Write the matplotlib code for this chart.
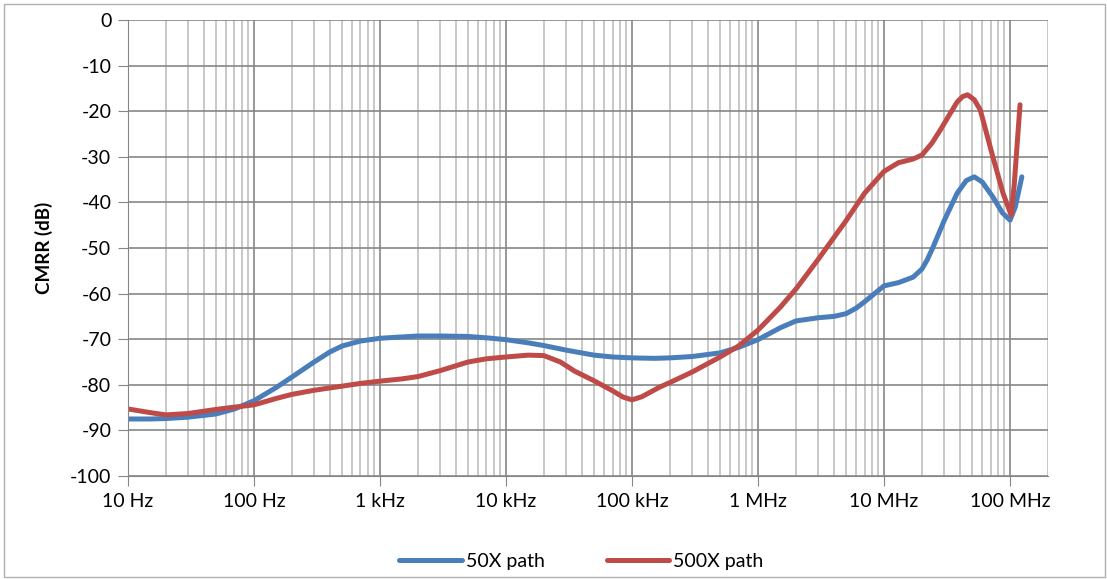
import matplotlib.pyplot as plt
import matplotlib.patches as patches

# frequencies (Hz) and CMRR (dB)
freq_50x = [10, 15, 20, 30, 50, 70, 100, 150, 200, 300, 400, 500, 700,
            1e3, 1.5e3, 2e3, 3e3, 5e3, 7e3, 1e4, 1.5e4, 2e4, 3e4, 5e4, 7e4,
            1e5, 1.5e5, 2e5, 3e5, 5e5, 7e5, 1e6, 1.5e6, 2e6, 3e6, 4e6, 5e6, 6e6, 7e6,
            1e7, 1.3e7, 1.7e7, 2e7, 2.2e7, 2.45e7, 3e7, 3.8e7, 4.5e7, 5.2e7, 6e7, 7.3e7, 8.7e7,
            1e8, 1.1e8, 1.24e8]
cmrr_50x = [-87.5, -87.5, -87.4, -87.1, -86.4, -85.3, -83.5, -80.6, -78.3, -75.0, -72.8, -71.5, -70.4,
            -69.8, -69.5, -69.3, -69.3, -69.4, -69.7, -70.1, -70.8, -71.4, -72.4, -73.5, -73.9,
            -74.1, -74.2, -74.1, -73.8, -73.0, -71.8, -70.1, -67.5, -66.0, -65.3, -65.0, -64.4, -63.2, -61.8,
            -58.3, -57.6, -56.4, -54.6, -52.6, -49.8, -44.0, -38.0, -35.2, -34.4, -35.5, -38.8, -42.3,
            -43.9, -41.0, -34.4]

freq_500x = [10, 15, 20, 30, 50, 70, 100, 150, 200, 300, 500, 700,
             1e3, 1.5e3, 2e3, 3e3, 5e3, 7e3, 1e4, 1.5e4, 2e4, 2.7e4, 3.5e4, 4.9e4, 7e4, 8.5e4,
             1e5, 1.2e5, 1.66e5, 2e5, 3e5, 5e5, 7e5, 1e6, 1.5e6, 2e6, 3e6, 5e6, 7e6,
             1e7, 1.3e7, 1.7e7, 2e7, 2.4e7, 2.8e7, 3.3e7, 3.8e7, 4.2e7, 4.6e7, 5.2e7, 5.8e7,
             7.3e7, 8.8e7, 1.02e8, 1.08e8, 1.14e8, 1.2e8]
cmrr_500x = [-85.3, -86.1, -86.6, -86.3, -85.4, -84.9, -84.4, -83.0, -82.1, -81.2, -80.3, -79.7,
             -79.2, -78.7, -78.2, -76.9, -75.0, -74.3, -73.9, -73.5, -73.6, -75.0, -77.0, -79.0, -81.3, -82.7,
             -83.3, -82.6, -80.5, -79.5, -77.2, -73.9, -71.5, -68.0, -63.0, -59.0, -52.5, -44.0, -38.0,
             -33.2, -31.3, -30.5, -29.6, -27.0, -24.1, -20.8, -18.0, -16.8, -16.4, -17.5, -19.7,
             -30.0, -38.0, -42.8, -36.0, -27.0, -18.6]

yticks = list(range(0, -101, -10))
xticks = [10, 100, 1e3, 1e4, 1e5, 1e6, 1e7, 1e8]
xlabels = ['10 Hz', '100 Hz', '1 kHz', '10 kHz', '100 kHz', '1 MHz', '10 MHz', '100 MHz']

blue = '#4a7ebb'
red = '#be4b48'

plt.rcParams['font.family'] = ['Lato', 'DejaVu Sans']
plt.rcParams['axes.unicode_minus'] = False

fig = plt.figure(figsize=(11.07, 5.79), dpi=100)
ax = fig.add_axes([0.1156, 0.1779, 0.8311, 0.7876])

ax.plot(freq_50x, cmrr_50x, color=blue, lw=3.6, solid_capstyle='round',
        solid_joinstyle='round', label='50X path')
ax.plot(freq_500x, cmrr_500x, color=red, lw=3.6, solid_capstyle='round',
        solid_joinstyle='round', label='500X path')

ax.set_xscale('log')
ax.set_xlim(10, 2e8)
ax.set_ylim(-100, 0)
ax.set_xticks(xticks)
ax.set_xticklabels(xlabels)
ax.set_yticks(yticks)
ax.minorticks_on()
ax.yaxis.set_minor_locator(plt.NullLocator())
ax.tick_params(axis='both', which='major', direction='out', length=7, color='#868686',
               labelsize=14, pad=5)
ax.tick_params(axis='x', which='minor', length=0)

ax.grid(True, which='major', color='#868686', lw=1.2)
ax.grid(True, which='minor', axis='x', color='#bfbfbf', lw=1.2)
ax.set_axisbelow(True)
for s in ax.spines.values():
    s.set_visible(False)
ax.spines['left'].set_visible(True)
ax.spines['left'].set_color('#868686')
ax.spines['bottom'].set_visible(True)
ax.spines['bottom'].set_color('#868686')

ax.set_ylabel('CMRR (dB)', fontsize=13.5, fontweight='bold', labelpad=12)

fig.legend(loc='center', bbox_to_anchor=(0.525, 0.031), ncol=2, frameon=False,
           fontsize=14, handlelength=3.2, handletextpad=0.2, columnspacing=3.2)

fig.patches.append(patches.Rectangle((0.004, 0.003), 0.994, 0.99, transform=fig.transFigure,
                                     fill=False, edgecolor='#b0b0b0', lw=1))

fig.savefig('out.png', dpi=100)
